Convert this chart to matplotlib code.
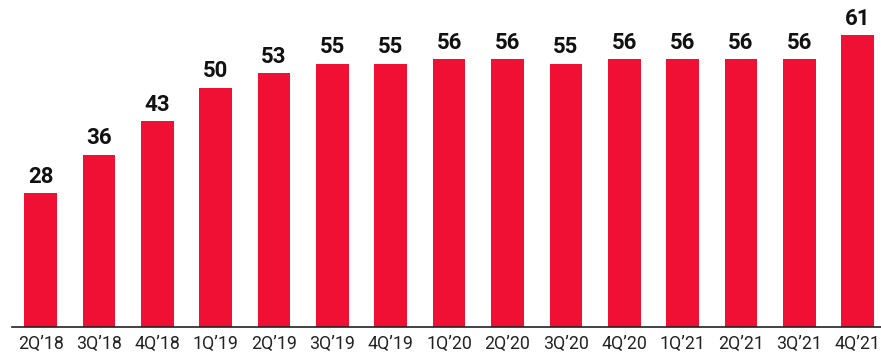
import matplotlib.pyplot as plt

quarters = ["2Q’18", "3Q’18", "4Q’18", "1Q’19", "2Q’19", "3Q’19", "4Q’19", "1Q’20",
            "2Q’20", "3Q’20", "4Q’20", "1Q’21", "2Q’21", "3Q’21", "4Q’21"]
values = [28, 36, 43, 50, 53, 55, 55, 56, 56, 55, 56, 56, 56, 56, 61]

plt.rcParams['font.family'] = ['Roboto', 'DejaVu Sans']

fig = plt.figure(figsize=(8.81, 3.55), dpi=100)
ax = fig.add_axes([12 / 881, 28 / 355, 869 / 881, 327 / 355])

x = range(len(values))
bars = ax.bar(x, values, width=0.56, color="#F01034")

# value on top of each bar
for b, v in zip(bars, values):
    ax.text(b.get_x() + b.get_width() / 2, v + 1.1, str(v), ha="center", va="bottom",
            fontsize=16, fontweight="bold", color="#111111")

ax.set_xlim(-0.49, len(values) - 0.6)
ax.set_ylim(0, 68.3)
ax.set_xticks(list(x))
ax.set_xticklabels(quarters, fontsize=12.8, color="#222222")
ax.tick_params(axis="x", length=0, pad=5.5)
ax.set_yticks([])
for s in ["top", "right", "left"]:
    ax.spines[s].set_visible(False)
ax.spines["bottom"].set_color("#222222")
ax.spines["bottom"].set_linewidth(1.2)

fig.savefig("out.png", dpi=100)
